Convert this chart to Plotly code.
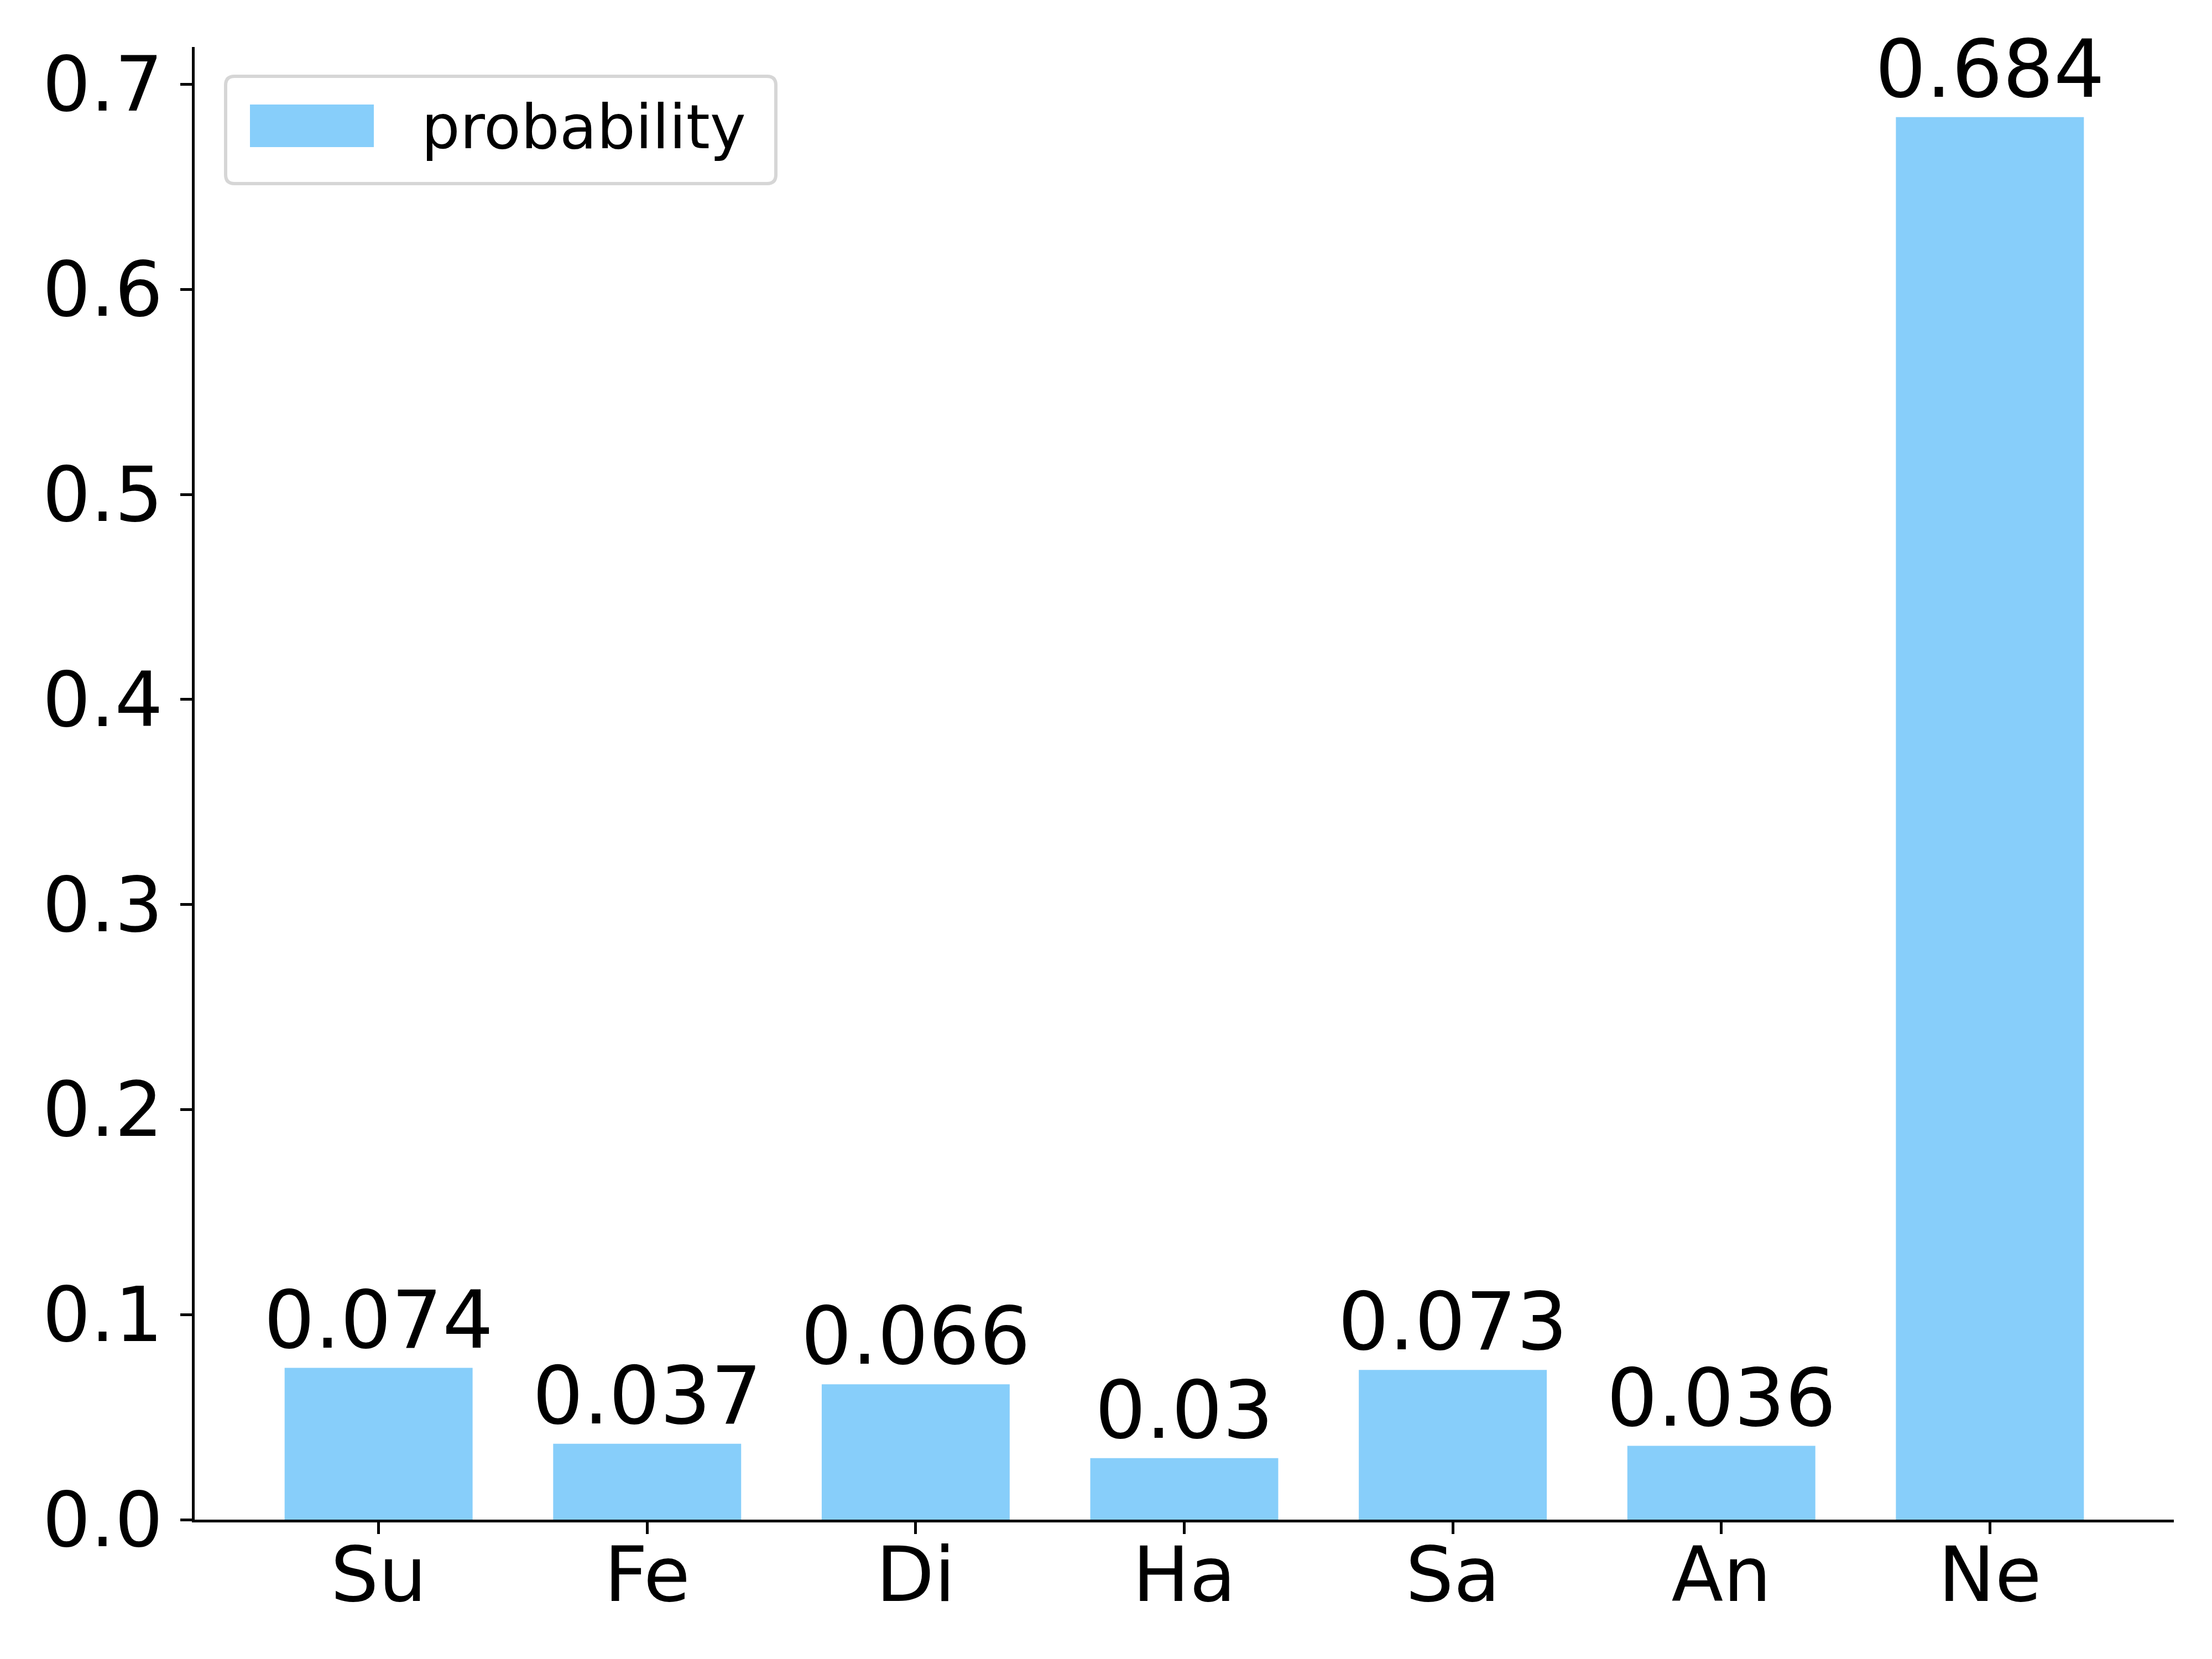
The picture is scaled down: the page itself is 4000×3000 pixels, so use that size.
import plotly.graph_objects as go

emotions = ['Su', 'Fe', 'Di', 'Ha', 'Sa', 'An', 'Ne']
probability = [0.074, 0.037, 0.066, 0.03, 0.073, 0.036, 0.684]
y_ticks = [0.0, 0.1, 0.2, 0.3, 0.4, 0.5, 0.6, 0.7]

bar_color = '#87CEFA'
font_family = 'DejaVu Sans'

fig = go.Figure(
    go.Bar(
        x=emotions,
        y=probability,
        text=[str(v) for v in probability],
        textposition='outside',
        constraintext='none',
        cliponaxis=False,
        textfont=dict(size=145, color='black', family=font_family),
        marker=dict(color=bar_color, line=dict(width=0)),
        name='probability',
        showlegend=False,
    )
)

# y range like matplotlib autoscale (5% headroom)
ymax = max(probability) * 1.05
n = len(emotions)

fig.update_layout(
    width=4000,
    height=3000,
    margin=dict(l=344, r=77, t=77, b=260, autoexpand=False),
    plot_bgcolor='white',
    paper_bgcolor='white',
    font=dict(family=font_family, size=137, color='black'),
    bargap=0.3,
    xaxis=dict(
        range=[-0.685, n - 1 + 0.685],
        showline=True, linecolor='black', linewidth=5,
        ticks='outside', ticklen=21, tickwidth=5, tickcolor='black',
        showgrid=False, zeroline=False, automargin=False,
        ticklabelstandoff=-43,
    ),
    yaxis=dict(
        range=[0, ymax],
        tickvals=y_ticks,
        ticktext=['%.1f' % t for t in y_ticks],
        showline=True, linecolor='black', linewidth=5,
        ticks='outside', ticklen=21, tickwidth=5, tickcolor='black',
        showgrid=False, zeroline=False, automargin=False,
        ticklabelstandoff=4,
    ),
)

# legend drawn by hand so the patch can be large like matplotlib's
pw, ph = 4000 - 344 - 77, 3000 - 77 - 260


def px(x):
    return (x - 344) / pw


def py(y):
    return 1 - (y - 77) / ph


x0, x1, y0, y1, r = 400, 1395, 130, 324, 16
path = (
    f'M {px(x0 + r)},{py(y0)} L {px(x1 - r)},{py(y0)} '
    f'Q {px(x1)},{py(y0)} {px(x1)},{py(y0 + r)} '
    f'L {px(x1)},{py(y1 - r)} Q {px(x1)},{py(y1)} {px(x1 - r)},{py(y1)} '
    f'L {px(x0 + r)},{py(y1)} Q {px(x0)},{py(y1)} {px(x0)},{py(y1 - r)} '
    f'L {px(x0)},{py(y0 + r)} Q {px(x0)},{py(y0)} {px(x0 + r)},{py(y0)} Z'
)
fig.add_shape(type='path', xref='paper', yref='paper', path=path,
              line=dict(color='#d6d6d6', width=6), fillcolor='white')
fig.add_shape(type='rect', xref='paper', yref='paper',
              x0=px(444), x1=px(668), y0=py(258), y1=py(181),
              line=dict(width=0), fillcolor=bar_color)
fig.add_annotation(xref='paper', yref='paper', x=px(752), y=py(222),
                   xanchor='left', yanchor='middle', showarrow=False,
                   text='probability', font=dict(size=110, color='black'))

fig.write_html('out.html')
